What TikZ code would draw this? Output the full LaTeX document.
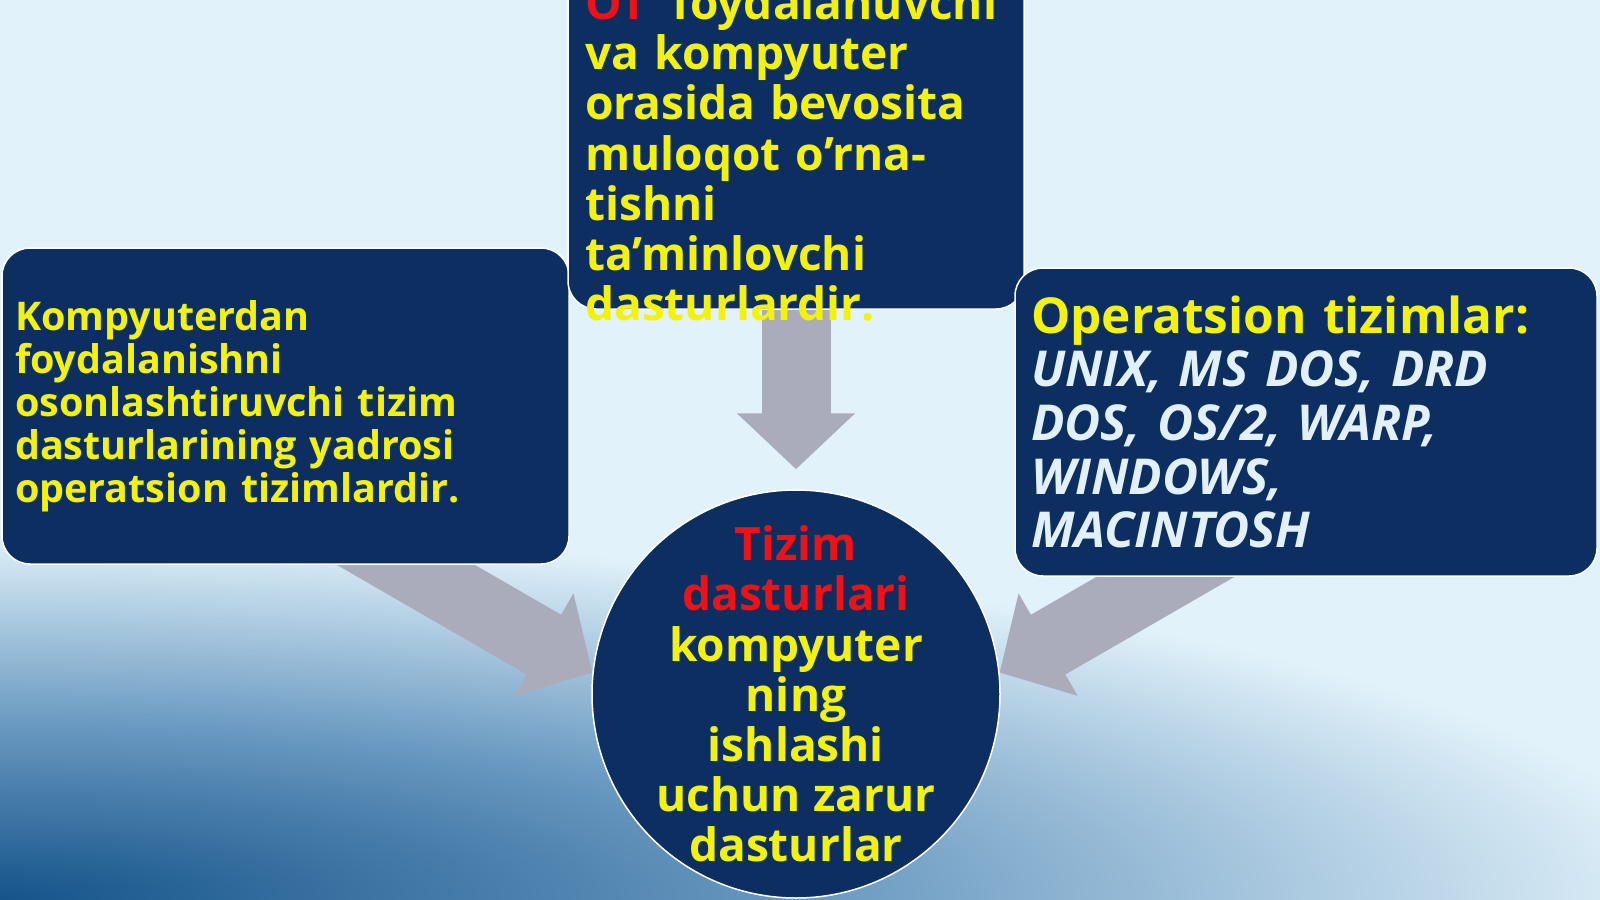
\documentclass[tikz,border=0pt]{standalone}
\usepackage{fontspec}
\setmainfont{Open Sans}
\usetikzlibrary{positioning,calc,arrows.meta}

\definecolor{navy}{RGB}{12,46,96}
\definecolor{hiyellow}{RGB}{242,242,12}
\definecolor{hired}{RGB}{236,18,24}
\definecolor{paletext}{RGB}{226,240,250}
\definecolor{arrowgray}{RGB}{170,172,187}
\definecolor{skytop}{RGB}{226,242,250}
\definecolor{seamid}{RGB}{104,152,192}
\definecolor{seadeep}{RGB}{22,84,138}

\pgfdeclareradialshading{seaglow}{\pgfpoint{0bp}{0bp}}{color(0bp)=(seadeep); color(8bp)=(seamid); color(17bp)=(skytop); color(25bp)=(skytop); color(50bp)=(skytop)}

\pgfdeclarelayer{bg}
\pgfdeclarelayer{arrowlayer}
\pgfsetlayers{bg,arrowlayer,main}

\tikzset{
  panel/.style={draw=white, line width=1.5pt, fill=navy, rounded corners=28pt},
  blockarrow/.style={draw=arrowgray, line width=69pt, -{Triangle[length=56pt,width=115pt]}},
  bigtext/.style={font=\bfseries\fontsize{46}{50.2}\selectfont, text=hiyellow, inner sep=0pt}
}

\begin{document}
\begin{tikzpicture}[x=1pt,y=-1pt]
\useasboundingbox (0,0) rectangle (1600,899);

% panels
\node[panel, minimum width=567pt, minimum height=316pt, text width=541pt, inner xsep=13pt,
  align=left, text=hiyellow, font=\bfseries\fontsize{39.5}{42.9}\selectfont] (leftbox) at (285.5,406)
  {Kompyuterdan\\ foydalanishni\\ osonlashtiruvchi tizim\\ dasturlarining yadrosi\\ operatsion tizimlardir.};
\node[panel, minimum width=456pt, minimum height=350pt] (topbox) at (796,134) {};
\node[bigtext, anchor=base west, text width=430pt, align=left] (toptext) at (585,19.5)
  {{\color{hired}OT}\hspace{0.55em}foydalanuvchi\\ va kompyuter\\ orasida bevosita\\ muloqot o’rna-\\ tishni\\ ta’minlovchi\\ dasturlardir.};
\node[panel, minimum width=582pt, minimum height=308pt, text width=550pt, inner xsep=16pt,
  align=left, text=paletext, font=\bfseries\fontsize{49.5}{53.6}\selectfont] (osbox) at (1306,422)
  {{\color{hiyellow}Operatsion tizimlar:}\\ \itshape UNIX, MS DOS, DRD\\ \itshape DOS, OS/2, WARP,\\ \itshape WINDOWS,\\ \itshape MACINTOSH};

% centre
\node[circle, draw=white, line width=1.5pt, fill=navy, minimum size=408pt] (core) at (796,694) {};
\node[bigtext, align=center] (coretext) at (core.center)
  {{\color{hired}Tizim}\\ {\color{hired}dasturlari}\\ kompyuter\\ ning\\ ishlashi\\ uchun zarur\\ dasturlar};

% arrows into the centre
\begin{pgfonlayer}{arrowlayer}
\draw[blockarrow] (topbox.south) -- ($(core.north)+(0,-20)$);
\draw[blockarrow] ($(core.174)+(210:300)$) -- (core.174);
\draw[blockarrow] ($(core.6)+(-30:300)$) -- (core.6);
\end{pgfonlayer}

% background
\begin{pgfonlayer}{bg}
\fill[skytop] (0,0) rectangle (1600,899);
\shade[shading=seaglow] (0,899) ellipse (2500 and 540);
\end{pgfonlayer}
\end{tikzpicture}
\end{document}
